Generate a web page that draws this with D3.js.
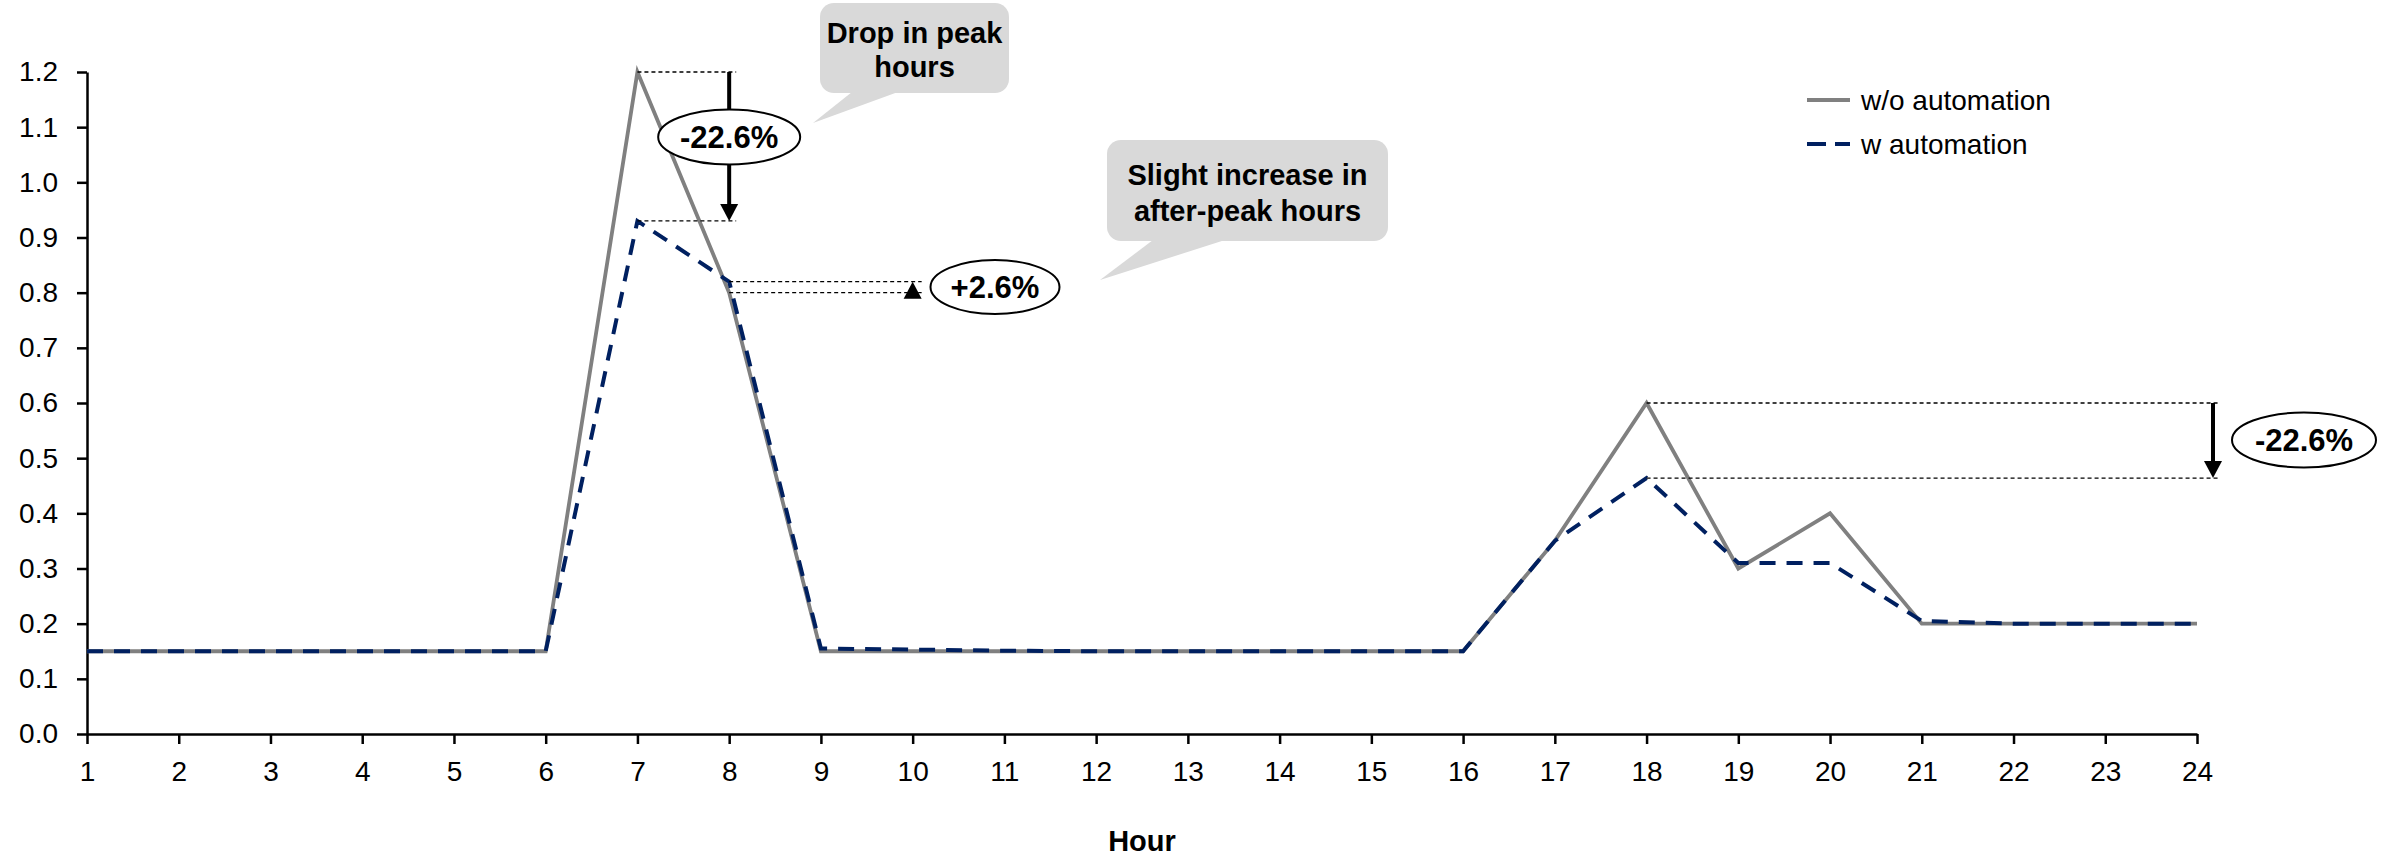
<!DOCTYPE html>
<meta charset="utf-8">
<script src="https://d3js.org/d3.v7.min.js"></script>
<style>
    body { margin: 0; background: #fff; }
    svg { font-family: 'Liberation Sans', Arial, sans-serif; }
    .axis text { font-size: 28px; fill: #000; }
    .axis path, .axis line { stroke: #000; stroke-width: 2.5px; }
    .guide { stroke: #000; stroke-width: 1.3px; stroke-dasharray: 4, 3; }
    .bubble { fill: #d9d9d9; }
    .bubble-text { font-size: 29px; font-weight: bold; text-anchor: middle; }
    .badge { fill: #fff; stroke: #000; stroke-width: 2px; }
    .badge-text { font-size: 31px; font-weight: bold; text-anchor: middle; }
    .legend { font-size: 28px; }
</style>

<div id="chart"></div>

<script>
    // hours on the x axis
    const hours = [1, 2, 3, 4, 5, 6, 7, 8, 9, 10, 11, 12, 13, 14, 15, 16, 17, 18, 19, 20, 21, 22, 23, 24];
    const yTicks = [0, 0.1, 0.2, 0.3, 0.4, 0.5, 0.6, 0.7, 0.8, 0.9, 1.0, 1.1, 1.2];

    // load per hour
    const withoutAutomation = [0.15, 0.15, 0.15, 0.15, 0.15, 0.15, 1.2, 0.8, 0.15, 0.15, 0.15, 0.15,
        0.15, 0.15, 0.15, 0.15, 0.35, 0.6, 0.3, 0.4, 0.2, 0.2, 0.2, 0.2];
    const withAutomation = [0.15, 0.15, 0.15, 0.15, 0.15, 0.15, 0.93, 0.82, 0.155, 0.153, 0.151, 0.15,
        0.15, 0.15, 0.15, 0.15, 0.35, 0.464, 0.31, 0.31, 0.205, 0.2, 0.2, 0.2];

    const seriesNames = ["w/o automation", "w automation"];
    const bubbleTexts = [["Drop in peak", "hours"], ["Slight increase in", "after-peak hours"]];
    const badgeTexts = ["-22.6%", "+2.6%", "-22.6%"];

    let width = 2394, height = 857;
    let margin = {top: 72, right: 197, bottom: 123, left: 87};

    let svg = d3.select("#chart")
        .append("svg")
        .attr("width", width)
        .attr("height", height);

    let x = d3.scaleLinear()
        .domain([1, 24])
        .range([margin.left, width - margin.right]);

    let y = d3.scaleLinear()
        .domain([0, 1.2])
        .range([height - margin.bottom, margin.top]);

    // axes
    svg.append("g")
        .attr("class", "axis")
        .attr("transform", "translate(0," + y(0) + ")")
        .call(d3.axisBottom(x).tickValues(hours).tickFormat(d3.format("d"))
            .tickSize(10).tickPadding(17).tickSizeOuter(0));

    svg.append("g")
        .attr("class", "axis")
        .attr("transform", "translate(" + x(1) + ",0)")
        .call(d3.axisLeft(y).tickValues(yTicks).tickFormat(d3.format(".1f"))
            .tickSize(10).tickPadding(19).tickSizeOuter(0));

    svg.append("text")
        .attr("x", (x(1) + x(24)) / 2)
        .attr("y", 851)
        .attr("text-anchor", "middle")
        .style("font-size", "29px")
        .style("font-weight", "bold")
        .text("Hour");

    // lines
    let line = d3.line()
        .x(function (d, i) { return x(hours[i]); })
        .y(function (d) { return y(d); });

    svg.append("path")
        .datum(withoutAutomation)
        .attr("d", line)
        .attr("fill", "none")
        .attr("stroke", "#808080")
        .attr("stroke-width", 3.8)
        .attr("stroke-linejoin", "miter");

    svg.append("path")
        .datum(withAutomation)
        .attr("d", line)
        .attr("fill", "none")
        .attr("stroke", "#002060")
        .attr("stroke-width", 4)
        .attr("stroke-dasharray", "16,11");

    // legend
    let legend = svg.append("g").attr("class", "legend");
    legend.append("line")
        .attr("x1", 1807).attr("x2", 1850).attr("y1", 100).attr("y2", 100)
        .attr("stroke", "#808080").attr("stroke-width", 4);
    legend.append("line")
        .attr("x1", 1807).attr("x2", 1850).attr("y1", 144).attr("y2", 144)
        .attr("stroke", "#002060").attr("stroke-width", 4)
        .attr("stroke-dasharray", "19,9");
    legend.selectAll("text")
        .data(seriesNames)
        .enter()
        .append("text")
        .attr("x", 1861)
        .attr("y", function (d, i) { return 100 + i * 44; })
        .attr("dy", "0.35em")
        .text(function (d) { return d; });

    // helper: dotted guide
    function guide(x1, x2, yv) {
        svg.append("line")
            .attr("class", "guide")
            .attr("x1", x1).attr("x2", x2)
            .attr("y1", y(yv)).attr("y2", y(yv));
    }

    // helper: arrow pointing down or up ending at y2
    function arrow(ax, y1, y2) {
        let dir = y2 > y1 ? 1 : -1;
        let head = 17;
        if (Math.abs(y2 - y1) > head) {
            svg.append("line")
                .attr("x1", ax).attr("x2", ax)
                .attr("y1", y1).attr("y2", y2 - dir * head)
                .attr("stroke", "#000").attr("stroke-width", 4);
        }
        svg.append("path")
            .attr("d", "M" + (ax - 9) + "," + (y2 - dir * head) + "L" + (ax + 9) + "," + (y2 - dir * head)
                + "L" + ax + "," + y2 + "Z")
            .attr("fill", "#000");
    }

    function badge(cx, cy, rx, ry, label) {
        svg.append("ellipse")
            .attr("class", "badge")
            .attr("cx", cx).attr("cy", cy).attr("rx", rx).attr("ry", ry);
        svg.append("text")
            .attr("class", "badge-text")
            .attr("x", cx).attr("y", cy)
            .attr("dy", "0.36em")
            .text(label);
    }

    function bubble(bx, by, bw, bh, tail, lines, lineY) {
        svg.append("path")
            .attr("class", "bubble")
            .attr("d", "M" + tail[0] + "," + (by + bh - 1) + "L" + tail[2] + "," + tail[3]
                + "L" + tail[1] + "," + (by + bh - 1) + "Z");
        svg.append("rect")
            .attr("class", "bubble")
            .attr("x", bx).attr("y", by)
            .attr("width", bw).attr("height", bh)
            .attr("rx", 14).attr("ry", 14);
        svg.selectAll(null)
            .data(lines)
            .enter()
            .append("text")
            .attr("class", "bubble-text")
            .attr("x", bx + bw / 2)
            .attr("y", function (d, i) { return lineY[i]; })
            .attr("dy", "0.36em")
            .text(function (d) { return d; });
    }

    // peak drop in the morning
    guide(x(7), x(8) + 7, withoutAutomation[6]);
    guide(x(7), x(8) + 7, withAutomation[6]);
    arrow(x(8), y(withoutAutomation[6]), y(withAutomation[6]));
    badge(x(8), 137, 71, 27.5, badgeTexts[0]);

    // slight increase after peak
    guide(x(8), x(10) + 9, withAutomation[7]);
    guide(x(8), x(10) + 9, withoutAutomation[7]);
    arrow(x(10), y(withoutAutomation[7]) + 6, y(withAutomation[7]));
    badge(995, 287, 64.5, 27, badgeTexts[1]);

    // evening peak drop
    guide(x(18), 2218, withoutAutomation[17]);
    guide(x(18), 2218, withAutomation[17]);
    arrow(2213, y(withoutAutomation[17]), y(withAutomation[17]));
    badge(2304, 440, 72, 27.5, badgeTexts[2]);

    // callouts
    bubble(820, 3, 189, 90, [852, 898, 813, 123], bubbleTexts[0], [33, 67]);
    bubble(1107, 140, 281, 101, [1153, 1225, 1100, 280], bubbleTexts[1], [175, 211]);
</script>
